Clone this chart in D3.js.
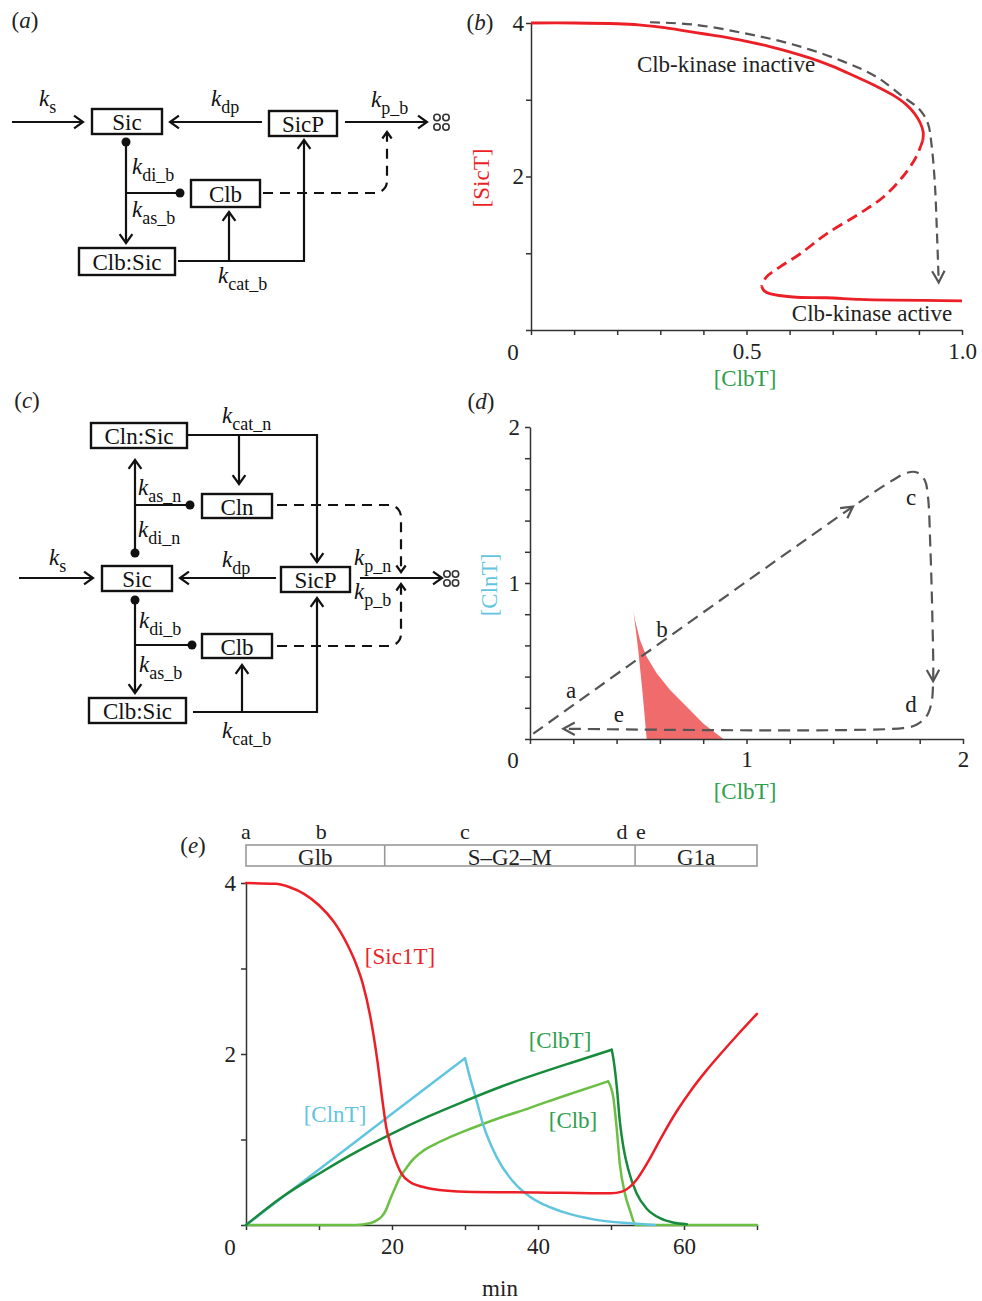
<!DOCTYPE html>
<html><head><meta charset="utf-8">
<script src="https://cdn.jsdelivr.net/npm/d3@7"></script>
<style>body{margin:0;background:#fff} text{font-family:"Liberation Serif","Times New Roman",serif}</style>
</head><body><svg id="fig" width="982" height="1301"></svg>
<script>
// ---------------- DATA ----------------
// Panel b: bifurcation (S-shaped) curve of [SicT] vs [ClbT]
const bUpperClbT = [0, 0.1, 0.2, 0.25, 0.3, 0.35, 0.4, 0.45, 0.5, 0.55, 0.6, 0.65, 0.7, 0.75, 0.8, 0.84, 0.87, 0.89, 0.903, 0.91, 0.909];
const bUpperSicT = [4, 4.0, 3.99, 3.975, 3.945, 3.905, 3.86, 3.815, 3.76, 3.70, 3.625, 3.54, 3.435, 3.31, 3.18, 3.06, 2.94, 2.82, 2.70, 2.58, 2.47];
const bUnstClbT  = [0.909, 0.894, 0.863, 0.817, 0.763, 0.685, 0.624, 0.577, 0.546, 0.535];
const bUnstSicT  = [2.47, 2.26, 2.00, 1.73, 1.52, 1.25, 0.99, 0.82, 0.69, 0.57];
const bLowerClbT = [0.535, 0.541, 0.556, 0.608, 0.685, 0.763, 0.841, 1.0];
const bLowerSicT = [0.57, 0.51, 0.47, 0.43, 0.42, 0.40, 0.39, 0.38];
const bTrajClbT  = [0.276, 0.376, 0.492, 0.608, 0.724, 0.801, 0.863, 0.902, 0.921, 0.929, 0.937, 0.942, 0.946];
const bTrajSicT  = [4.01, 3.98, 3.87, 3.72, 3.50, 3.30, 3.04, 2.87, 2.69, 2.43, 1.91, 1.25, 0.62];
const bXTicks = [0,0.1,0.2,0.3,0.4,0.5,0.6,0.7,0.8,0.9,1.0];
const bXLabels = {0.5:"0.5", 1:"1.0"};
const bYTicks = [0,1,2,3,4];
const bYLabels = {2:"2", 4:"4"};

// Panel d: bistable region and trajectory in [ClbT]-[ClnT] plane
const dRegionClbT = [0.477, 0.485, 0.508, 0.539, 0.585, 0.647, 0.724, 0.800, 0.893, 0.539, 0.520, 0.500, 0.477];
const dRegionClnT = [0.827, 0.763, 0.635, 0.528, 0.421, 0.314, 0.207, 0.100, 0.0, 0.0, 0.293, 0.571, 0.827];
const dTrajClbT = [0.015, 1.492, 1.677, 1.738, 1.785, 1.823, 1.838, 1.849, 1.858, 1.862, 1.854, 1.831, 1.785, 1.723, 0.154];
const dTrajClnT = [0.034, 1.490, 1.660, 1.705, 1.710, 1.660, 1.556, 1.235, 0.810, 0.370, 0.230, 0.145, 0.092, 0.070, 0.066];
const dArrowIdx = [1, 9, 14];
const dPointLabels = ["a","b","c","d","e"];
const dPointClbT = [0.19, 0.61, 1.76, 1.76, 0.41];
const dPointClnT = [0.31, 0.70, 1.55, 0.22, 0.16];
const dTicks = [0,0.2,0.4,0.6,0.8,1.0,1.2,1.4,1.6,1.8,2.0];
const dLabels = {1:"1", 2:"2"};

// Panel e: time courses (min)
const eTimeSic = [0,4,6,8,10,12,13,14,15,16,17,18,18.7,19.2,19.7,20.3,21.3,22.5,24,26.5,30,40,50,51.5,52.5,53.5,55,57,59,61,63,65,67.5,70];
const eSic1T    = [4,3.99,3.95,3.87,3.74,3.55,3.42,3.26,3.07,2.82,2.45,1.92,1.45,1.15,0.97,0.80,0.60,0.50,0.45,0.41,0.39,0.38,0.37,0.39,0.44,0.53,0.73,1.04,1.33,1.58,1.80,2.00,2.24,2.47];
const eTimeCln = [0,10,20,30,30.6,31.6,32.5,34.3,37.1,38.9,43.5,48,52.6,56];
const eClnT    = [0,0.65,1.30,1.95,1.75,1.45,1.17,0.80,0.46,0.33,0.15,0.06,0.02,0];
const eTimeClbT = [0,5,10,15,20,25,30,35,40,45,50.1,50.3,50.8,51.2,51.7,52.4,53.5,54.9,56.7,58.5,60.4];
const eClbT     = [0,0.33,0.60,0.85,1.07,1.27,1.45,1.62,1.77,1.91,2.05,1.96,1.61,1.22,0.91,0.64,0.37,0.19,0.08,0.03,0.01];
const eTimeClb = [0,15,17,18,18.6,19.2,19.7,20.4,21.1,22,22.7,24.3,26,27.5,30,32.1,35,38.9,41.2,45,49.6,50.3,50.8,51.2,51.9,52.6,53.4,70];
const eClb     = [0,0,0.02,0.06,0.10,0.18,0.29,0.43,0.56,0.67,0.75,0.87,0.95,1.01,1.10,1.17,1.26,1.37,1.44,1.55,1.68,1.50,1.11,0.72,0.37,0.17,0.0,0];
const ePhaseBounds = [0,19,53.3,70];
const ePhaseNames = ["Glb","S\u2013G2\u2013M","G1a"];
const eEventTimes = [0,10.3,30,51.5,54.1];
const eEventNames = ["a","b","c","d","e"];
const eXTicks = [0,10,20,30,40,50,60,70];
const eXLabels = {20:"20",40:"40",60:"60"};
const eYTicks = [0,1,2,3,4];
const eYLabels = {2:"2",4:"4"};

// ---------------- STYLE ----------------
const SERIF = '"Liberation Serif","Times New Roman",serif';
const RED = "#ec1f27", CYAN = "#62c5df", DKGREEN = "#178a3c", LTGREEN = "#6cbf45", GTEXT = "#2ea04c", GRAY = "#555";
const INK = "#111";
const svg = d3.select("#fig");

function txt(x, y, s, o = {}) {
  const t = svg.append("text").attr("x", x).attr("y", y).text(s)
    .attr("font-family", SERIF).attr("font-size", o.size || 23).attr("fill", o.fill || "#222")
    .attr("text-anchor", o.anchor || "middle").attr("dominant-baseline", o.baseline || "central");
  if (o.rotate) t.attr("transform", `rotate(${o.rotate},${x},${y})`);
  return t;
}
function panelLabel(x, y, letter) {
  const t = svg.append("text").attr("x", x).attr("y", y).attr("font-family", SERIF).attr("font-size", 23)
    .attr("text-anchor", "middle").attr("dominant-baseline", "central").attr("fill", "#222");
  t.append("tspan").text("(");
  t.append("tspan").attr("font-style", "italic").text(letter);
  t.append("tspan").text(")");
}
function kLabel(x, y, sub) {
  const t = svg.append("text").attr("x", x).attr("y", y).attr("font-family", SERIF).attr("font-size", 23).attr("fill", INK);
  t.append("tspan").attr("font-style", "italic").text("k");
  t.append("tspan").attr("font-size", 18).attr("dy", 7).text(sub);
}
function chevron(tx, ty, ang, len, spread, color, w) {
  const a1 = ang + Math.PI - spread, a2 = ang + Math.PI + spread;
  svg.append("path")
    .attr("d", `M${tx + len * Math.cos(a1)},${ty + len * Math.sin(a1)}L${tx},${ty}L${tx + len * Math.cos(a2)},${ty + len * Math.sin(a2)}`)
    .attr("fill", "none").attr("stroke", color).attr("stroke-width", w).attr("stroke-linejoin", "miter");
}

// ---------------- DIAGRAMS (a) and (c) ----------------
function roundedPath(pts, r) {
  const p = d3.path();
  p.moveTo(pts[0][0], pts[0][1]);
  for (let i = 1; i < pts.length - 1; i++) p.arcTo(pts[i][0], pts[i][1], pts[i + 1][0], pts[i + 1][1], r);
  p.lineTo(pts[pts.length - 1][0], pts[pts.length - 1][1]);
  return p.toString();
}
function diagram(d) {
  d.lines.forEach(l => svg.append("path").attr("d", roundedPath(l, 0)).attr("fill", "none").attr("stroke", INK).attr("stroke-width", 2.2));
  d.arrows.forEach(l => {
    svg.append("path").attr("d", roundedPath(l, 0)).attr("fill", "none").attr("stroke", INK).attr("stroke-width", 2.2);
    const a = l[l.length - 2], b = l[l.length - 1];
    chevron(b[0], b[1], Math.atan2(b[1] - a[1], b[0] - a[0]), 11, 0.62, INK, 2.2);
  });
  d.dashed.forEach(l => {
    svg.append("path").attr("d", roundedPath(l, 12)).attr("fill", "none").attr("stroke", INK).attr("stroke-width", 2.2).attr("stroke-dasharray", "10,7");
    const a = l[l.length - 2], b = l[l.length - 1];
    chevron(b[0], b[1], Math.atan2(b[1] - a[1], b[0] - a[0]), 8, 0.62, INK, 2.2);
  });
  d.dots.forEach(p => svg.append("circle").attr("cx", p[0]).attr("cy", p[1]).attr("r", 4.5).attr("fill", INK));
  d.boxes.forEach(b => {
    svg.append("rect").attr("x", b.x).attr("y", b.y).attr("width", b.w).attr("height", b.h)
      .attr("fill", "#fff").attr("stroke", INK).attr("stroke-width", 2.4);
    txt(b.x + b.w / 2, b.y + b.h / 2 + 1, b.label, { size: 23, fill: INK });
  });
  d.sink.forEach(p => svg.append("circle").attr("cx", p[0]).attr("cy", p[1]).attr("r", 3.2)
    .attr("fill", "none").attr("stroke", "#333").attr("stroke-width", 1.6));
  d.k.forEach(k => kLabel(k[0], k[1], k[2]));
}

const diagA = {
  boxes: [{ x: 92, y: 109, w: 70, h: 25, label: "Sic" }, { x: 269, y: 111, w: 68, h: 25, label: "SicP" },
          { x: 191, y: 180, w: 69, h: 27, label: "Clb" }, { x: 79, y: 248, w: 96, h: 27, label: "Clb:Sic" }],
  arrows: [[[12, 122], [83, 122]], [[262, 122], [170, 122]], [[345, 122], [427, 122]], [[126, 142], [126, 243]],
           [[178, 261], [304, 261], [304, 140]], [[229, 261], [229, 212]]],
  lines: [[[126, 193], [180, 193]]],
  dashed: [[[263, 193], [387, 193], [387, 132]]],
  dots: [[126, 142], [180, 193]],
  sink: [[437, 117.5], [446, 117.5], [437, 127], [446, 127]],
  k: [[39, 106, "s"], [211, 106, "dp"], [371, 107, "p_b"], [132, 174, "di_b"], [132, 217, "as_b"], [218, 283, "cat_b"]]
};
const diagC = {
  boxes: [{ x: 91, y: 423, w: 96, h: 25, label: "Cln:Sic" }, { x: 202, y: 494, w: 70, h: 24, label: "Cln" },
          { x: 102, y: 566, w: 70, h: 25, label: "Sic" }, { x: 281, y: 567, w: 69, h: 25, label: "SicP" },
          { x: 202, y: 634, w: 70, h: 24, label: "Clb" }, { x: 89, y: 698, w: 97, h: 25, label: "Clb:Sic" }],
  arrows: [[[19, 578], [93, 578]], [[276, 578], [180, 578]], [[360, 578], [442, 578]], [[135, 553], [135, 460]],
           [[135, 600], [135, 693]], [[188, 435], [317, 435], [317, 562]], [[239, 435], [239, 484]],
           [[193, 712], [317, 712], [317, 598]], [[242, 712], [242, 665]]],
  lines: [[[135, 505], [190, 505]], [[135, 645], [192, 645]]],
  dashed: [[[277, 505], [401, 505], [401, 572]], [[277, 646], [401, 646], [401, 584]]],
  dots: [[135, 553], [190, 505], [135, 600], [192, 645]],
  sink: [[447, 574], [455.5, 574], [447, 583], [455.5, 583]],
  k: [[222, 423, "cat_n"], [138, 495, "as_n"], [138, 537, "di_n"], [49, 565, "s"], [222, 567, "dp"],
      [354, 565, "p_n"], [354, 599, "p_b"], [139, 628, "di_b"], [139, 672, "as_b"], [222, 738, "cat_b"]]
};
diagram(diagA);
diagram(diagC);
panelLabel(25, 20, "a");
panelLabel(27, 400, "c");

// ---------------- AXES helper ----------------
function axes(x, y, xTicks, yTicks, xLab, yLab, xPad, yPad) {
  const gx = svg.append("g").attr("transform", `translate(0,${y.range()[0]})`)
    .call(d3.axisBottom(x).tickValues(xTicks).tickSize(5).tickSizeOuter(0).tickPadding(xPad)
      .tickFormat(v => xLab[+v.toFixed(2)] || ""));
  const gy = svg.append("g").attr("transform", `translate(${x.range()[0]},0)`)
    .call(d3.axisLeft(y).tickValues(yTicks).tickSize(5).tickSizeOuter(0).tickPadding(yPad)
      .tickFormat(v => yLab[+v.toFixed(2)] || ""));
  [gx, gy].forEach(g => {
    g.attr("font-family", SERIF).attr("font-size", 23);
    g.selectAll("path,line").attr("stroke", "#333").attr("stroke-width", 1.5);
    g.selectAll("text").attr("fill", "#222");
  });
}
const zipXY = (xs, ys) => xs.map((v, i) => [v, ys[i]]);

// ---------------- PANEL (b) ----------------
const xB = d3.scaleLinear([0, 1], [531, 962]);
const yB = d3.scaleLinear([0, 4], [330, 23]);
axes(xB, yB, bXTicks, bYTicks, bXLabels, bYLabels, 8, 2);
txt(513, 352, "0");
const lineB = d3.line().x(d => xB(d[0])).y(d => yB(d[1])).curve(d3.curveCatmullRom.alpha(0.5));
svg.append("path").attr("d", lineB(zipXY(bUpperClbT, bUpperSicT))).attr("fill", "none").attr("stroke", RED).attr("stroke-width", 2.8);
svg.append("path").attr("d", lineB(zipXY(bUnstClbT, bUnstSicT))).attr("fill", "none").attr("stroke", RED).attr("stroke-width", 2.8).attr("stroke-dasharray", "11,6");
svg.append("path").attr("d", lineB(zipXY(bLowerClbT, bLowerSicT))).attr("fill", "none").attr("stroke", RED).attr("stroke-width", 2.8);
svg.append("path").attr("d", lineB(zipXY(bTrajClbT, bTrajSicT))).attr("fill", "none").attr("stroke", GRAY).attr("stroke-width", 2.2).attr("stroke-dasharray", "10,6");
{
  const n = bTrajClbT.length;
  const tx = xB(bTrajClbT[n - 1]), ty = yB(bTrajSicT[n - 1]);
  const px = xB(bTrajClbT[n - 2]), py = yB(bTrajSicT[n - 2]);
  chevron(tx, ty, Math.atan2(ty - py, tx - px), 13, 0.5, GRAY, 2.2);
}
txt(726, 64, "Clb-kinase inactive", { fill: "#222" });
txt(872, 313, "Clb-kinase active", { fill: "#222" });
txt(745, 378, "[ClbT]", { fill: GTEXT });
txt(481, 178, "[SicT]", { fill: RED, rotate: -90 });
panelLabel(480, 22, "b");

// ---------------- PANEL (d) ----------------
const xD = d3.scaleLinear([0, 2], [530, 963]);
const yD = d3.scaleLinear([0, 2], [739, 427]);
svg.append("path").attr("d", d3.line().x(d => xD(d[0])).y(d => yD(d[1]))(zipXY(dRegionClbT, dRegionClnT)) + "Z")
  .attr("fill", "#f06c6c").attr("stroke", "none");
axes(xD, yD, dTicks, dTicks, dLabels, dLabels, 7, 5);
txt(513, 760, "0");
const lineD = d3.line().x(d => xD(d[0])).y(d => yD(d[1])).curve(d3.curveCatmullRom.alpha(0.5));
svg.append("path").attr("d", lineD(zipXY(dTrajClbT, dTrajClnT))).attr("fill", "none").attr("stroke", GRAY).attr("stroke-width", 2.2).attr("stroke-dasharray", "12,7");
dArrowIdx.forEach(i => {
  const tx = xD(dTrajClbT[i]), ty = yD(dTrajClnT[i]);
  const px = xD(dTrajClbT[i - 1]), py = yD(dTrajClnT[i - 1]);
  chevron(tx, ty, Math.atan2(ty - py, tx - px), 13, 0.5, GRAY, 2.2);
});
dPointLabels.forEach((s, i) => txt(xD(dPointClbT[i]), yD(dPointClnT[i]), s, { fill: "#222" }));
txt(745, 791, "[ClbT]", { fill: GTEXT });
txt(489, 585, "[ClnT]", { fill: CYAN, rotate: -90 });
panelLabel(481, 401, "d");

// ---------------- PANEL (e) ----------------
const xE = d3.scaleLinear([0, 70], [246, 757]);
const yE = d3.scaleLinear([0, 4], [1225, 883]);
// phase bar
svg.append("rect").attr("x", xE(0)).attr("y", 845).attr("width", xE(70) - xE(0)).attr("height", 21)
  .attr("fill", "none").attr("stroke", "#999").attr("stroke-width", 1.6);
ePhaseBounds.slice(1, -1).forEach(t => svg.append("line").attr("x1", xE(t)).attr("x2", xE(t)).attr("y1", 845).attr("y2", 866).attr("stroke", "#999").attr("stroke-width", 1.6));
ePhaseNames.forEach((s, i) => txt(xE((ePhaseBounds[i] + ePhaseBounds[i + 1]) / 2), 865, s, { fill: "#222", size: 23, baseline: "alphabetic" }));
eEventNames.forEach((s, i) => txt(xE(eEventTimes[i]), 839, s, { fill: "#222", size: 22, baseline: "alphabetic" }));
axes(xE, yE, eXTicks, eYTicks, eXLabels, eYLabels, 8, 5);
txt(230, 1247, "0");
const lineE = d3.line().x(d => xE(d[0])).y(d => yE(d[1])).curve(d3.curveMonotoneX);
// series whose maximum is a sharp turning point are drawn as a rising and a falling piece
const series = [[eTimeClb, eClb, LTGREEN, true], [eTimeCln, eClnT, CYAN, true], [eTimeClbT, eClbT, DKGREEN, true], [eTimeSic, eSic1T, RED, false]];
series.forEach(s => {
  const pts = zipXY(s[0], s[1]);
  const pieces = [];
  if (s[3]) {
    const k = d3.maxIndex(s[1]);
    pieces.push(pts.slice(0, k + 1), pts.slice(k));
  } else pieces.push(pts);
  pieces.forEach(p => svg.append("path").attr("d", lineE(p)).attr("fill", "none").attr("stroke", s[2])
    .attr("stroke-width", 2.5).attr("stroke-linejoin", "round").attr("stroke-linecap", "round"));
});
txt(400, 956, "[Sic1T]", { fill: RED });
txt(335, 1114, "[ClnT]", { fill: CYAN });
txt(560, 1040, "[ClbT]", { fill: GTEXT });
txt(573, 1120, "[Clb]", { fill: GTEXT });
txt(500, 1288, "min", { fill: "#222" });
panelLabel(193, 845, "e");
</script>
</body></html>
